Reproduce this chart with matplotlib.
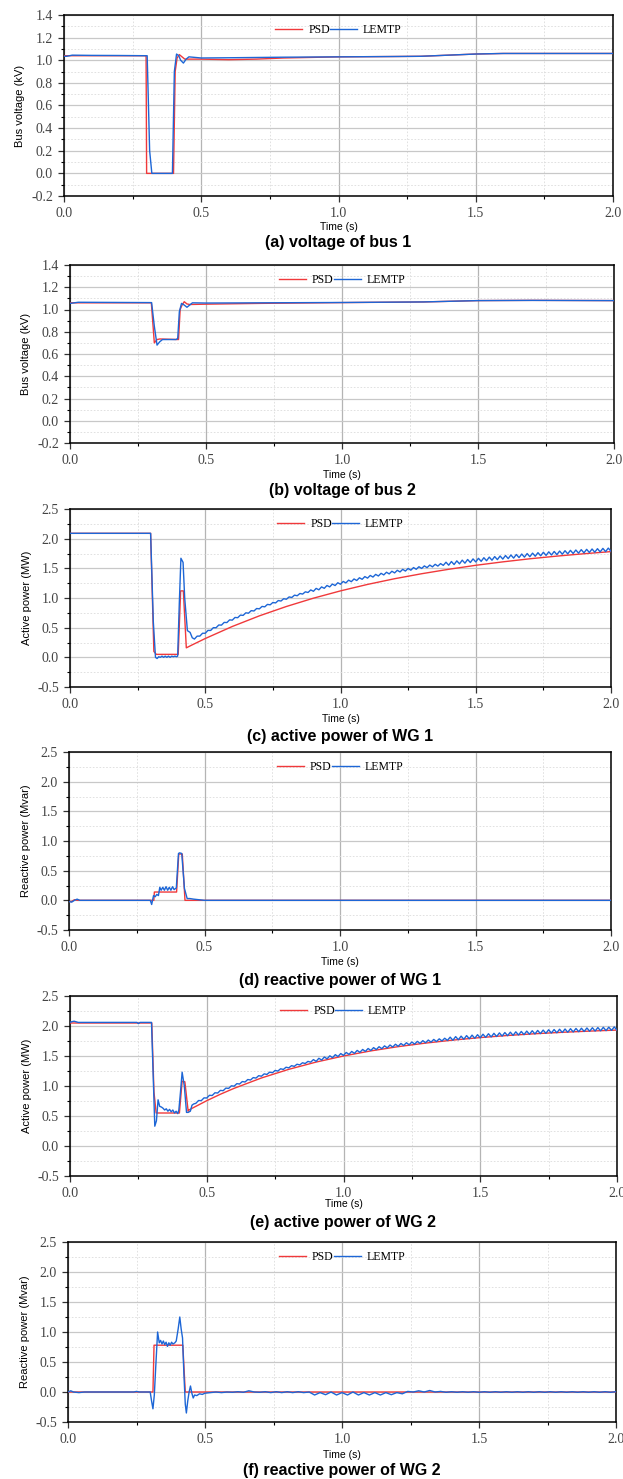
import numpy as np
import matplotlib
matplotlib.use('Agg')
import matplotlib.pyplot as plt
from matplotlib.ticker import MultipleLocator, FormatStrFormatter

# ---- (a) voltage of bus 1 ----
t_a_psd = [0.0, 0.299, 0.301, 0.399, 0.405, 0.412, 0.42, 0.43, 0.44, 0.5, 0.6, 0.7, 0.8, 1.0, 1.2, 1.3, 1.4,
           1.5, 1.6, 1.8, 2.0]
v_a_psd = [1.04, 1.04, 0.0, 0.0, 0.90, 1.02, 1.05, 1.03, 1.01, 1.01, 1.005, 1.01, 1.02, 1.03, 1.033, 1.035,
           1.045, 1.055, 1.06, 1.06, 1.06]
t_a_lemtp = [0.0, 0.01, 0.03, 0.1, 0.2, 0.303, 0.312, 0.32, 0.33, 0.395, 0.402, 0.41, 0.418, 0.425, 0.435, 0.445,
             0.455, 0.5, 0.6, 0.8, 1.0, 1.2, 1.3, 1.4, 1.5, 1.6, 1.8, 2.0]
v_a_lemtp = [1.035, 1.035, 1.045, 1.043, 1.042, 1.04, 0.2, 0.0, 0.0, 0.0, 0.9, 1.055, 1.04, 1.0, 0.975, 1.01,
             1.03, 1.02, 1.022, 1.027, 1.03, 1.033, 1.035, 1.045, 1.055, 1.06, 1.06, 1.06]

# ---- (b) voltage of bus 2 ----
t_b_psd = [0.0, 0.299, 0.31, 0.32, 0.33, 0.399, 0.405, 0.412, 0.42, 0.43, 0.44, 0.5, 0.7, 1.0, 1.3, 1.5, 1.7, 2.0]
v_b_psd = [1.06, 1.06, 0.70, 0.73, 0.735, 0.73, 1.0, 1.04, 1.07, 1.05, 1.045, 1.048, 1.055, 1.062, 1.068, 1.08,
           1.082, 1.08]
t_b_lemtp = [0.0, 0.01, 0.03, 0.30, 0.31, 0.32, 0.33, 0.34, 0.39, 0.396, 0.402, 0.41, 0.42, 0.43, 0.44, 0.45,
             0.5, 0.7, 1.0, 1.3, 1.5, 1.7, 2.0]
v_b_lemtp = [1.055, 1.058, 1.065, 1.062, 0.85, 0.68, 0.71, 0.73, 0.73, 0.74, 0.98, 1.055, 1.04, 1.02, 1.04, 1.06,
             1.058, 1.06, 1.063, 1.068, 1.08, 1.082, 1.08]

# LEMTP output after the fault, sampled every 10 ms (0.46 s .. 2.00 s)
t_tail = np.round(np.arange(0.46, 2.0001, 0.01), 2)
# and every 20 ms (0.52 s .. 2.00 s) for the reactive power of WG 2
t_tail_f = np.round(np.arange(0.52, 2.0001, 0.02), 2)

# ---- (c) active power of WG 1 ----
t_c_psd = [0.0, 0.298, 0.31, 0.319, 0.40, 0.409, 0.419, 0.43, 0.45, 0.5, 0.6, 0.7, 0.8, 0.9, 1.0, 1.1, 1.2, 1.3,
           1.4, 1.5, 1.6, 1.7, 1.8, 1.9, 2.0]
p_c_psd = [2.09, 2.09, 0.10, 0.05, 0.05, 1.12, 1.12, 0.16, 0.206, 0.317, 0.520, 0.699, 0.857, 0.997, 1.120,
           1.229, 1.325, 1.409, 1.484, 1.551, 1.609, 1.661, 1.706, 1.746, 1.782]
t_c_lemtp_fault = [0.0, 0.298, 0.308, 0.316, 0.322, 0.328, 0.334, 0.34, 0.346, 0.352, 0.358, 0.364, 0.37, 0.376,
                   0.382, 0.388, 0.394, 0.398, 0.404, 0.41, 0.418, 0.424, 0.434, 0.444, 0.452]
p_c_lemtp_fault = [2.09, 2.09, 0.6, 0.0, -0.02, 0.01, 0.0, 0.02, 0.0, 0.02, 0.0, 0.02, 0.0, 0.02, 0.01, 0.02,
                   0.01, 0.02, 0.9, 1.67, 1.6, 1.0, 0.45, 0.42, 0.33]
p_c_lemtp_tail = [
    0.308, 0.357, 0.358, 0.406, 0.406, 0.454, 0.453, 0.500, 0.499, 0.545, 0.543, 0.589, 0.586, 0.631, 0.627,
    0.672, 0.668, 0.712, 0.707, 0.750, 0.744, 0.787, 0.781, 0.823, 0.817, 0.858, 0.851, 0.892, 0.885, 0.925,
    0.917, 0.957, 0.949, 0.988, 0.979, 1.018, 1.009, 1.048, 1.038, 1.076, 1.066, 1.104, 1.093, 1.136, 1.113,
    1.162, 1.138, 1.187, 1.163, 1.211, 1.187, 1.235, 1.210, 1.257, 1.232, 1.279, 1.254, 1.301, 1.275, 1.321,
    1.295, 1.341, 1.315, 1.361, 1.335, 1.380, 1.353, 1.398, 1.371, 1.416, 1.389, 1.434, 1.406, 1.451, 1.423,
    1.467, 1.439, 1.483, 1.454, 1.498, 1.469, 1.513, 1.484, 1.527, 1.498, 1.541, 1.512, 1.555, 1.525, 1.568,
    1.538, 1.580, 1.550, 1.603, 1.553, 1.615, 1.564, 1.626, 1.576, 1.638, 1.587, 1.649, 1.598, 1.659, 1.608,
    1.669, 1.618, 1.679, 1.628, 1.689, 1.637, 1.698, 1.647, 1.708, 1.656, 1.716, 1.664, 1.725, 1.673, 1.733,
    1.681, 1.741, 1.689, 1.749, 1.696, 1.756, 1.704, 1.764, 1.711, 1.771, 1.718, 1.778, 1.725, 1.784, 1.731,
    1.791, 1.738, 1.797, 1.744, 1.803, 1.750, 1.809, 1.756, 1.815, 1.761, 1.820, 1.767, 1.826, 1.772, 1.831,
    1.777, 1.836, 1.782, 1.841, 1.787]

# ---- (d) reactive power of WG 1 ----
t_d_psd = [0.0, 0.01, 0.02, 0.03, 0.313, 0.315, 0.397, 0.405, 0.418, 0.428, 0.432, 2.0]
q_d_psd = [-0.02, -0.02, 0.01, 0.0, 0.0, 0.14, 0.14, 0.78, 0.78, 0.0, 0.0, 0.0]
t_d_lemtp = [0.0, 0.01, 0.02, 0.03, 0.04, 0.1, 0.30, 0.305, 0.312, 0.318, 0.324, 0.33, 0.335, 0.34, 0.346, 0.352,
             0.358, 0.364, 0.37, 0.376, 0.382, 0.388, 0.396, 0.404, 0.408, 0.416, 0.426, 0.436, 0.446, 0.46, 0.48,
             0.5, 2.0]
q_d_lemtp = [-0.02, -0.03, 0.0, 0.02, 0.0, 0.0, 0.0, -0.07, 0.08, 0.06, 0.1, 0.08, 0.22, 0.17, 0.22, 0.17, 0.23,
             0.17, 0.22, 0.17, 0.23, 0.18, 0.21, 0.79, 0.8, 0.79, 0.2, 0.03, 0.03, 0.02, 0.01, 0.0, 0.0]

# ---- (e) active power of WG 2 ----
t_e_psd = [0.0, 0.299, 0.307, 0.315, 0.40, 0.41, 0.42, 0.432, 0.435, 0.45, 0.5, 0.55, 0.6, 0.7, 0.8, 0.9, 1.0,
           1.1, 1.2, 1.3, 1.4, 1.5, 1.6, 1.7, 1.8, 1.9, 2.0]
p_e_psd = [2.05, 2.05, 0.9, 0.55, 0.55, 1.08, 1.07, 0.58, 0.60, 0.637, 0.755, 0.863, 0.961, 1.134, 1.278, 1.399,
           1.50, 1.585, 1.656, 1.715, 1.765, 1.807, 1.842, 1.871, 1.895, 1.915, 1.932]
t_e_lemtp_fault = [0.0, 0.005, 0.015, 0.03, 0.1, 0.245, 0.25, 0.256, 0.298, 0.304, 0.31, 0.316, 0.322, 0.328,
                   0.334, 0.34, 0.346, 0.352, 0.358, 0.364, 0.37, 0.376, 0.382, 0.388, 0.394, 0.398, 0.404, 0.41,
                   0.418, 0.426, 0.432, 0.44, 0.446, 0.452]
p_e_lemtp_fault = [2.06, 2.07, 2.08, 2.06, 2.06, 2.06, 2.04, 2.06, 2.06, 1.2, 0.33, 0.42, 0.77, 0.66, 0.65, 0.63,
                   0.60, 0.62, 0.58, 0.61, 0.57, 0.6, 0.55, 0.58, 0.54, 0.6, 0.9, 1.23, 1.0, 0.56, 0.56, 0.58,
                   0.68, 0.70]
p_e_lemtp_tail = [
    0.711, 0.758, 0.756, 0.802, 0.800, 0.845, 0.842, 0.887, 0.883, 0.927, 0.922, 0.965, 0.960, 1.003, 0.997,
    1.039, 1.033, 1.074, 1.067, 1.108, 1.100, 1.140, 1.132, 1.172, 1.163, 1.202, 1.193, 1.231, 1.221, 1.259,
    1.249, 1.287, 1.276, 1.313, 1.302, 1.339, 1.327, 1.363, 1.351, 1.387, 1.375, 1.410, 1.397, 1.440, 1.411,
    1.462, 1.432, 1.483, 1.453, 1.503, 1.472, 1.522, 1.491, 1.541, 1.510, 1.559, 1.527, 1.576, 1.544, 1.593,
    1.561, 1.609, 1.577, 1.625, 1.592, 1.640, 1.607, 1.655, 1.622, 1.669, 1.636, 1.683, 1.649, 1.696, 1.662,
    1.709, 1.675, 1.721, 1.687, 1.733, 1.698, 1.744, 1.710, 1.756, 1.721, 1.766, 1.731, 1.776, 1.741, 1.786,
    1.751, 1.796, 1.761, 1.814, 1.762, 1.823, 1.771, 1.831, 1.779, 1.840, 1.788, 1.848, 1.795, 1.855, 1.803,
    1.863, 1.811, 1.871, 1.818, 1.878, 1.825, 1.885, 1.832, 1.891, 1.838, 1.897, 1.844, 1.903, 1.850, 1.909,
    1.856, 1.915, 1.862, 1.921, 1.867, 1.926, 1.873, 1.932, 1.878, 1.937, 1.883, 1.941, 1.887, 1.946, 1.892,
    1.950, 1.896, 1.955, 1.901, 1.959, 1.905, 1.963, 1.909, 1.967, 1.913, 1.971, 1.916, 1.974, 1.920, 1.978,
    1.923, 1.981, 1.927, 1.985, 1.930]

# ---- (f) reactive power of WG 2 ----
t_f_psd = [0.0, 0.31, 0.314, 0.419, 0.428, 2.0]
q_f_psd = [0.0, 0.0, 0.78, 0.78, 0.0, 0.0]
t_f_lemtp_fault = [0.0, 0.01, 0.02, 0.04, 0.06, 0.1, 0.24, 0.25, 0.26, 0.30, 0.305, 0.31, 0.315, 0.32, 0.327,
                   0.333, 0.338, 0.343, 0.348, 0.353, 0.358, 0.363, 0.368, 0.373, 0.378, 0.383, 0.39, 0.395, 0.402,
                   0.408, 0.413, 0.418, 0.423, 0.428, 0.432, 0.437, 0.442, 0.447, 0.452, 0.457, 0.462, 0.47, 0.48,
                   0.49, 0.5]
q_f_lemtp_fault = [0.0, 0.02, 0.0, -0.01, 0.0, 0.0, 0.0, 0.01, 0.0, 0.0, -0.15, -0.28, -0.05, 0.4, 1.0,
                   0.82, 0.86, 0.8, 0.85, 0.79, 0.83, 0.76, 0.82, 0.78, 0.83, 0.80, 0.82, 0.85, 1.05,
                   1.25, 1.05, 0.9, 0.3, -0.2, -0.35, -0.15, 0.0, 0.1, -0.02, -0.1, -0.05, -0.06, -0.03,
                   -0.04, -0.02]
q_f_lemtp_tail = [
    -0.01, 0.0, -0.01, 0.0, -0.005, 0.005, -0.005, 0.02, 0.0, -0.005, 0.005, -0.01, 0.005, -0.01, 0.005,
    -0.01, 0.005, -0.01, 0.0, -0.05, -0.01, -0.045, 0.0, -0.05, -0.01, -0.05, 0.0, -0.05, -0.01, -0.05,
    -0.01, -0.05, -0.01, -0.045, -0.01, -0.03, 0.01, 0.0, 0.02, 0.0, 0.025, 0.0, 0.01, -0.005, 0.005,
    -0.005, 0.005, -0.005, 0.005, -0.005, 0.005, -0.005, 0.005, -0.005, 0.005, -0.005, 0.005, -0.005, 0.005, -0.005,
    0.005, -0.005, 0.005, -0.005, 0.005, -0.005, 0.005, -0.005, 0.005, -0.005, 0.005, -0.005, 0.005, -0.005, 0.005]

ylabels = ['Bus voltage (kV)', 'Bus voltage (kV)', 'Active power (MW)', 'Reactive power (Mvar)',
           'Active power (MW)', 'Reactive power (Mvar)']
captions = ['(a) voltage of bus 1', '(b) voltage of bus 2', '(c) active power of WG 1',
            '(d) reactive power of WG 1', '(e) active power of WG 2', '(f) reactive power of WG 2']

psd_color = '#f0393b'
lemtp_color = '#1d66d6'
W, H = 623, 1479

# pixel boxes of the six panels: left, right, top, bottom, x-label y, caption y
boxes = [(64, 613, 15, 196, 227, 242),
         (70, 614, 265, 443, 475, 490),
         (70, 611, 509, 687, 719, 736),
         (69, 611, 752, 930, 962, 980),
         (70, 617, 996, 1176, 1204, 1222),
         (68, 616, 1242, 1422, 1455, 1470)]

series = [
    (t_a_psd, v_a_psd, t_a_lemtp, v_a_lemtp),
    (t_b_psd, v_b_psd, t_b_lemtp, v_b_lemtp),
    (t_c_psd, p_c_psd, list(t_c_lemtp_fault) + list(t_tail), p_c_lemtp_fault + p_c_lemtp_tail),
    (t_d_psd, q_d_psd, t_d_lemtp, q_d_lemtp),
    (t_e_psd, p_e_psd, list(t_e_lemtp_fault) + list(t_tail), p_e_lemtp_fault + p_e_lemtp_tail),
    (t_f_psd, q_f_psd, list(t_f_lemtp_fault) + list(t_tail_f), q_f_lemtp_fault + q_f_lemtp_tail),
]

serif = ['Liberation Serif', 'DejaVu Serif']
sans = ['Liberation Sans', 'DejaVu Sans']
narrow = ['Liberation Sans Narrow', 'Liberation Sans', 'DejaVu Sans']

fig = plt.figure(figsize=(W / 100, H / 100), dpi=100)
fig.set_facecolor('white')

for i, (l, r, top, bot, xl_y, cap_y) in enumerate(boxes):
    ax = fig.add_axes([l / W, 1 - bot / H, (r - l) / W, (bot - top) / H])
    tp, vp, tl, vl = series[i]
    ax.plot(tp, vp, color=psd_color, lw=1.0, label='PSD', zorder=3)
    ax.plot(tl, vl, color=lemtp_color, lw=1.0, label='LEMTP', zorder=4)

    ax.set_xlim(0, 2.0)
    if i < 2:
        ax.set_ylim(-0.2, 1.4)
        ax.yaxis.set_major_locator(MultipleLocator(0.2))
        ax.yaxis.set_minor_locator(MultipleLocator(0.1))
    else:
        ax.set_ylim(-0.5, 2.5)
        ax.yaxis.set_major_locator(MultipleLocator(0.5))
        ax.yaxis.set_minor_locator(MultipleLocator(0.25))
    ax.xaxis.set_major_locator(MultipleLocator(0.5))
    ax.xaxis.set_minor_locator(MultipleLocator(0.25))
    ax.xaxis.set_major_formatter(FormatStrFormatter('%.1f'))
    ax.yaxis.set_major_formatter(FormatStrFormatter('%.1f'))

    ax.grid(axis='y', which='major', color='#c8c8c8', lw=0.9, ls='-')
    ax.grid(axis='y', which='minor', color='#dcdcdc', lw=0.6, ls=(0, (2, 2)))
    ax.grid(axis='x', which='major', color='#b4b4b4', lw=0.9, ls='-')
    ax.grid(axis='x', which='minor', color='#dcdcdc', lw=0.6, ls=(0, (2, 2)))
    ax.set_axisbelow(True)

    ax.tick_params(which='major', direction='out', length=4, width=0.9, pad=4, labelsize=10, colors='#333333')
    ax.tick_params(which='minor', direction='out', length=2.5, width=0.8)
    for lab in ax.get_xticklabels() + ax.get_yticklabels():
        lab.set_family(serif)
        lab.set_color('#444444')
    for s in ax.spines.values():
        s.set_color('black')
        s.set_linewidth(1.1)

    ax.set_ylabel(ylabels[i], family=sans, fontsize=8, labelpad=4)
    fig.text((l + r) / 2 / W, 1 - xl_y / H, 'Time (s)', family=narrow, fontsize=7.5,
             ha='center', va='center')
    fig.text((l + r) / 2 / W, 1 - cap_y / H, captions[i], family=sans, fontsize=11.5,
             fontweight='bold', ha='center', va='center')

    ax.legend(loc='upper center', ncol=2, frameon=False, prop={'family': serif, 'size': 8.5},
              handlelength=2.3, handletextpad=0.5, columnspacing=0.0, borderaxespad=0.4)

fig.savefig('out.png', dpi=100, facecolor='white')
